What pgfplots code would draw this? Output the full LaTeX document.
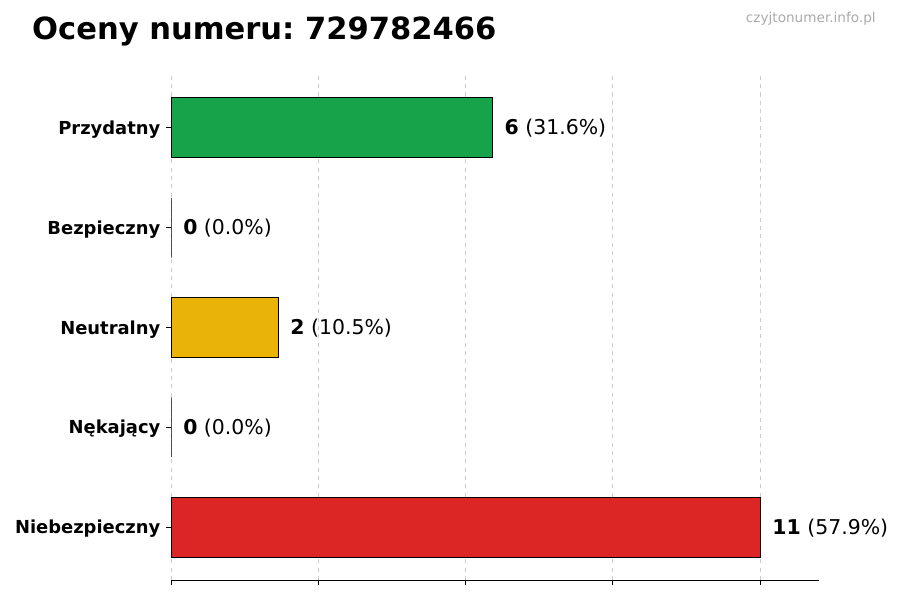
\documentclass[border=0pt]{standalone}
\usepackage{pgfplots}
\pgfplotsset{compat=1.18}
\usepackage{fontspec}
\setmainfont{DejaVu Sans}
\frenchspacing
\definecolor{cgreen}{HTML}{16A34A}
\definecolor{cyellow}{HTML}{EAB308}
\definecolor{cred}{HTML}{DC2626}
\definecolor{cgrid}{HTML}{CCCCCC}
\definecolor{cmark}{HTML}{AAAAAA}

\begin{document}
\begin{tikzpicture}
  \useasboundingbox (0,0) rectangle (648pt,432pt);
  \node[anchor=base west, inner sep=0pt, font=\fontsize{22}{26}\selectfont\bfseries]
    at (23pt,403.9pt) {Oceny numeru: 729782466};
  \node[anchor=base east, inner sep=0pt, text=cmark, font=\fontsize{9.8}{12}\selectfont]
    at (630.7pt,416pt) {czyjtonumer.info.pl};
  \begin{axis}[
      at={(123.12pt,14.4pt)}, anchor=south west,
      scale only axis,
      width=466.6pt, height=363.6pt,
      xmin=0, xmax=12.1,
      ymin=-0.53, ymax=4.53,
      axis lines*=left,
      y axis line style={draw=none},
      xtick={0,2.75,5.5,8.25,11},
      xticklabels={},
      ytick={0,1,2,3,4},
      yticklabels={Niebezpieczny,Nękający,Neutralny,Bezpieczny,Przydatny},
      yticklabel style={font=\fontsize{12.9}{15}\selectfont\bfseries, inner sep=0pt, xshift=-4pt, yshift=-1.2pt},
      tick align=outside,
      major tick length=3.5pt,
      tick style={black, line width=0.6pt},
      xmajorgrids=true,
      grid style={cgrid, dashed, line width=0.6pt},
      xbar, bar width=0.6, bar shift=0pt,
      clip=false,
      point meta=explicit symbolic,
      visualization depends on={rawx \as \rx},
      nodes near coords={\textbf{\pgfmathprintnumber[fixed, precision=0, assume math mode=true]{\rx}} (\pgfplotspointmeta\%)},
      every node near coord/.append style={anchor=west, inner sep=0pt, xshift=8.5pt, yshift=-0.5pt,
        font=\fontsize{14.7}{17}\selectfont, black},
    ]
    \addplot[fill=cgreen, draw=black, line width=0.7pt] coordinates {(6,4) [31.6]};
    \addplot[fill=white, draw=black, line width=0.7pt] coordinates {(0,3) [0.0]};
    \addplot[fill=cyellow, draw=black, line width=0.7pt] coordinates {(2,2) [10.5]};
    \addplot[fill=white, draw=black, line width=0.7pt] coordinates {(0,1) [0.0]};
    \addplot[fill=cred, draw=black, line width=0.7pt] coordinates {(11,0) [57.9]};
  \end{axis}
\end{tikzpicture}
\end{document}
